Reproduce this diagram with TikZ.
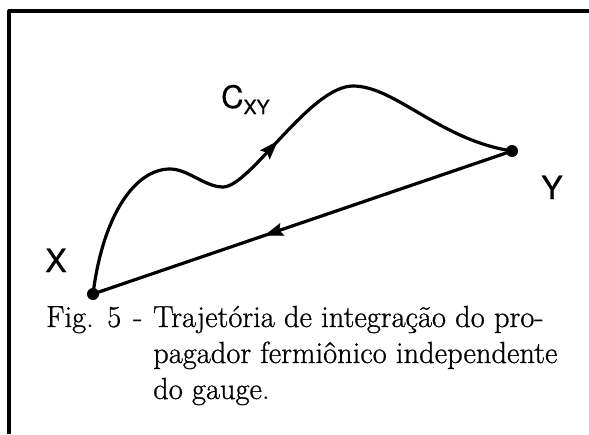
\documentclass[tikz,border=0pt]{standalone}
\usepackage{fontspec}
\newfontfamily\labelfont[FakeBold=0.6]{TeX Gyre Heros}
\newfontfamily\capfont[FakeBold=0.8]{Latin Modern Roman}
\usetikzlibrary{decorations.markings}
\tikzset{
  trace/.style={line width=3.2pt, line cap=round, line join=round},
  midarrow/.style={postaction={decorate}, decoration={markings,
      mark=at position #1 with {\filldraw[line width=0.8pt, line join=miter]
        (8pt,0pt) -- (-9pt,6pt) -- (-6pt,0pt) -- (-9pt,-6pt) -- cycle;}}},
  dotnode/.style={circle, fill, inner sep=0pt, minimum size=12pt},
  lbl/.style={font=\labelfont\fontsize{32}{32}\selectfont, inner sep=0pt},
  captxt/.style={font=\capfont\fontsize{30.5}{36}\selectfont, anchor=base west, inner sep=0pt}
}
\begin{document}
\begin{tikzpicture}[x=1pt,y=-1pt]
\useasboundingbox (0,0) rectangle (589,434);
% frame
\draw[trace, line cap=butt] (9,434) -- (9,11) -- (589,11);
% end points
\node[dotnode] (xd) at (93,294) {};
\node[dotnode] (yd) at (512,151) {};
% labels
\node[lbl, anchor=base] (xl) at (56,272) {X};
\node[lbl, anchor=base] (yl) at (552,199) {Y};
\node[lbl, anchor=base west, font=\labelfont\fontsize{31}{31}\selectfont] (cl) at (221,108)
  {C\raisebox{-6pt}{\fontsize{19.5}{19.5}\selectfont XY}};
% curved path C_XY
\draw[trace, midarrow=0.5] (xd.center)
  .. controls (103,215) and (135,169) .. (170,169)
  .. controls (188,169) and (205,187) .. (223,187)
  .. controls (250,187) and (310,86) .. (353,86)
  .. controls (395,86) and (440,140) .. (yd.center);
% straight return path
\draw[trace, midarrow=0.57] (yd.center) -- (xd.center);
% caption
\node[captxt] (c0) at (46,327) {Fig.};
\node[captxt] (c0n) at (107,327) {5};
\node[captxt] (c0d) at (133,327) {-};
\node[captxt] (c1) at (153,327) {Trajetória de integração do pro-};
\node[captxt] (c2) at (153,363) {pagador fermiônico independente};
\node[captxt] (c3) at (153,399) {do gauge.};
\end{tikzpicture}
\end{document}
